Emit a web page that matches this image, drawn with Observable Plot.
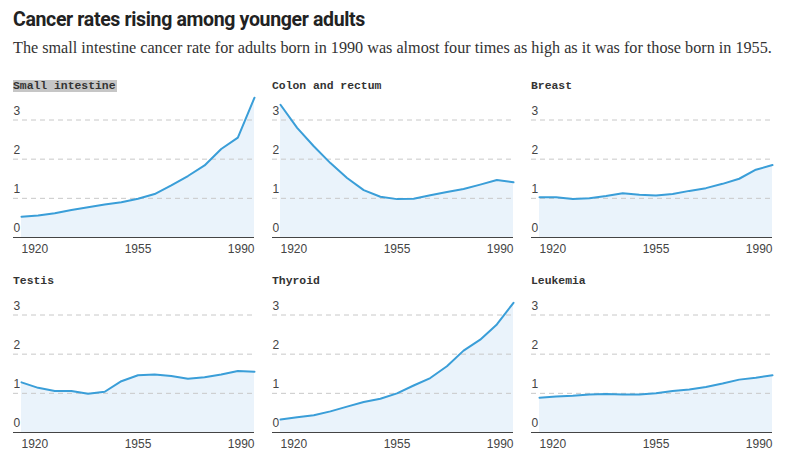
<!DOCTYPE html>
<html>
<head>
<meta charset="utf-8">
<script src="https://cdn.jsdelivr.net/npm/d3@7"></script>
<script src="https://cdn.jsdelivr.net/npm/@observablehq/plot@0.6"></script>
<style>
  body { margin: 0; background: #fff; width: 793px; height: 463px; position: relative; overflow: hidden; }
  #title { position: absolute; left: 13px; top: 8px; font-family: "Roboto", sans-serif; font-weight: bold; font-size: 19.5px; color: #222; letter-spacing: -0.35px; }
  #subtitle { position: absolute; left: 13px; top: 39px; font-family: "Liberation Serif", serif; font-size: 16.2px; color: #333; white-space: nowrap; }
  .panel { position: absolute; }
  .ptitle { height: 16px; line-height: 16px; font-family: "Liberation Mono", "DejaVu Sans Mono", monospace; font-weight: bold; font-size: 11.4px; color: #333; }
  .ptitle span.hl { background: #c6c6c6; padding: 0 1px 0 0; }
  svg { display: block; }
</style>
</head>
<body>
<div id="title">Cancer rates rising among younger adults</div>
<div id="subtitle">The small intestine cancer rate for adults born in 1990 was almost four times as high as it was for those born in 1955.</div>
<div id="charts"></div>
<script>
const years = [1920, 1925, 1930, 1935, 1940, 1945, 1950, 1955, 1960, 1965, 1970, 1975, 1980, 1985, 1990];
const cancers = ["Small intestine", "Colon and rectum", "Breast", "Testis", "Thyroid", "Leukemia"];
const smallIntestine = [0.53, 0.56, 0.62, 0.70, 0.77, 0.84, 0.90, 0.99, 1.11, 1.33, 1.57, 1.84, 2.26, 2.55, 3.57];
const colonRectum   = [3.39, 2.80, 2.33, 1.90, 1.52, 1.21, 1.04, 0.98, 0.99, 1.08, 1.16, 1.24, 1.35, 1.47, 1.41];
const breast        = [1.03, 1.03, 0.98, 1.00, 1.06, 1.13, 1.09, 1.07, 1.11, 1.19, 1.26, 1.37, 1.50, 1.73, 1.85];
const testis        = [1.28, 1.14, 1.06, 1.06, 0.99, 1.04, 1.31, 1.46, 1.48, 1.44, 1.37, 1.41, 1.48, 1.57, 1.55];
const thyroid       = [0.33, 0.39, 0.44, 0.54, 0.66, 0.78, 0.86, 1.00, 1.20, 1.39, 1.69, 2.09, 2.37, 2.76, 3.31];
const leukemia      = [0.89, 0.92, 0.94, 0.97, 0.98, 0.97, 0.97, 1.00, 1.06, 1.10, 1.16, 1.25, 1.35, 1.40, 1.46];
const seriesValues = [smallIntestine, colonRectum, breast, testis, thyroid, leukemia];
const yTicks = [0, 1, 2, 3];
const xTickLabels = ["1920", "1955", "1990"];
const highlighted = "Small intestine";

const lineColor = "#3a9ed8";
const areaColor = "#eaf3fb";
const colLeft = [13, 272, 531];
const rowTop = [78, 273];

const container = document.getElementById("charts");
cancers.forEach((name, i) => {
  const data = years.map((y, j) => ({year: y, value: seriesValues[i][j]}));
  const div = document.createElement("div");
  div.className = "panel";
  div.style.left = colLeft[i % 3] + "px";
  div.style.top = rowTop[Math.floor(i / 3)] + "px";
  const t = document.createElement("div");
  t.className = "ptitle";
  const span = document.createElement("span");
  if (name === highlighted) span.className = "hl";
  span.textContent = name;
  t.appendChild(span);
  div.appendChild(t);

  const xLabel = (k, anchor) => Plot.text([xTickLabels[k]], {
    x: d => +d, text: d => d, frameAnchor: "bottom", dy: 15, textAnchor: anchor, fill: "#444", fontSize: 12
  });

  const chart = Plot.plot({
    width: 259,
    height: 165,
    marginLeft: 8,
    marginRight: 18,
    marginTop: 2,
    marginBottom: 22,
    x: {domain: [1920, 1990], axis: null},
    y: {domain: [0, 3.6], axis: null},
    style: {fontFamily: "Liberation Sans, Arial, sans-serif", fontSize: "12px", color: "#444", overflow: "visible"},
    marks: [
      Plot.areaY(data, {x: "year", y: "value", fill: areaColor}),
      Plot.ruleY(yTicks.filter(d => d > 0), {stroke: "#c8c8c8", strokeDasharray: "5,4", strokeWidth: 1, insetLeft: -8}),
      Plot.ruleY([0], {stroke: "#444", strokeWidth: 1.2, insetLeft: -8}),
      Plot.text(yTicks, {y: d => d, text: d => String(d), frameAnchor: "left", dx: -8, dy: -9, textAnchor: "start", fill: "#444", fontSize: 12}),
      Plot.lineY(data, {x: "year", y: "value", stroke: lineColor, strokeWidth: 2}),
      xLabel(0, "start"),
      xLabel(1, "middle"),
      xLabel(2, "end")
    ]
  });
  div.appendChild(chart);
  container.appendChild(div);
});
</script>
</body>
</html>
